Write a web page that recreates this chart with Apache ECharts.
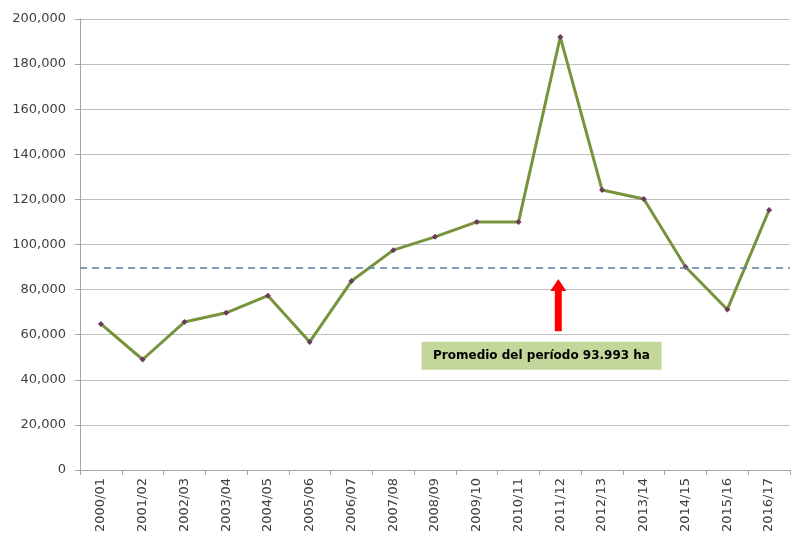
<!DOCTYPE html>
<html><head><meta charset="utf-8">
<script src="https://cdn.jsdelivr.net/npm/echarts@6/dist/echarts.min.js"></script>
<style>html,body{margin:0;padding:0;background:#fff}#c{width:800px;height:542px}</style>
</head><body><div id="c"></div>
<script>
const categories = ['2000/01','2001/02','2002/03','2003/04','2004/05','2005/06','2006/07','2007/08','2008/09','2009/10','2010/11','2011/12','2012/13','2013/14','2014/15','2015/16','2016/17'];
const superficie = [64800, 49000, 65600, 69700, 77300, 56800, 83800, 97500, 103400, 110000, 110000, 192000, 124200, 120200, 90000, 71200, 115300];
const promedioLinea = 89600;
const promedioTexto = 'Promedio del período 93.993 ha';
const yTicks = { min: 0, max: 200000, interval: 20000 };

const chart = echarts.init(document.getElementById('c'), null, {renderer:'canvas'});
const font = 'DejaVu Sans, Verdana, sans-serif';
chart.setOption({
  animation: false,
  grid: { left: 80, right: 10, top: 19, bottom: 72 },
  xAxis: {
    type: 'category', data: categories, boundaryGap: true,
    axisLine: { lineStyle: { color: '#a6a6a6', width: 1 } },
    axisTick: { show: true, length: 5, lineStyle: { color: '#a6a6a6' } },
    axisLabel: { rotate: 90, interval: 0, color: '#404040', fontFamily: font, fontSize: 13, margin: 8 }
  },
  yAxis: {
    type: 'value', min: yTicks.min, max: yTicks.max, interval: yTicks.interval,
    axisLine: { show: true, lineStyle: { color: '#a6a6a6' } },
    axisTick: { show: true, length: 5, inside: false, lineStyle: { color: '#a6a6a6' } },
    splitLine: { lineStyle: { color: '#bfbfbf', width: 1 } },
    axisLabel: { color: '#404040', fontFamily: font, fontSize: 13, margin: 14,
      formatter: v => v.toLocaleString('en-US') }
  },
  series: [{
    type: 'line', data: superficie,
    lineStyle: { color: '#77933c', width: 3 },
    itemStyle: { color: '#6b3a5c' },
    symbol: 'diamond', symbolSize: 6, showSymbol: true,
    markLine: {
      silent: true, symbol: 'none',
      label: { show: false },
      lineStyle: { color: '#5a7fa6', type: [7, 5], width: 1.5 },
      data: [{ yAxis: promedioLinea }]
    }
  }]
});

function px(idx, val) {
  const i0 = Math.floor(idx), f = idx - i0;
  const a = chart.convertToPixel({ seriesIndex: 0 }, [i0, val]);
  const b = chart.convertToPixel({ seriesIndex: 0 }, [i0 + 1, val]);
  return [a[0] + (b[0] - a[0]) * f, a[1]];
}
function drawAnnot() {
  const tip = px(11, 84700);
  const base = px(11, 61500);
  const boxC = px(10.55, 50700);
  const ax = tip[0] - 2;
  const hw = 8, sw = 3.5, hh = 12;
  chart.setOption({
    graphic: [
      { type: 'polygon', shape: { points: [
          [ax, tip[1]], [ax + hw, tip[1] + hh], [ax + sw, tip[1] + hh],
          [ax + sw, base[1]], [ax - sw, base[1]], [ax - sw, tip[1] + hh], [ax - hw, tip[1] + hh]
        ] }, style: { fill: '#ff0000' }, z: 10 },
      { type: 'rect', shape: { x: boxC[0] - 120, y: boxC[1] - 14, width: 240, height: 28 },
        style: { fill: '#c4d79b' }, z: 10 },
      { type: 'text', x: boxC[0], y: boxC[1], z: 11,
        style: { text: promedioTexto, fill: '#000', font: 'bold 12px ' + font, align: 'center', verticalAlign: 'middle' } }
    ]
  });
}
drawAnnot();
</script></body></html>
